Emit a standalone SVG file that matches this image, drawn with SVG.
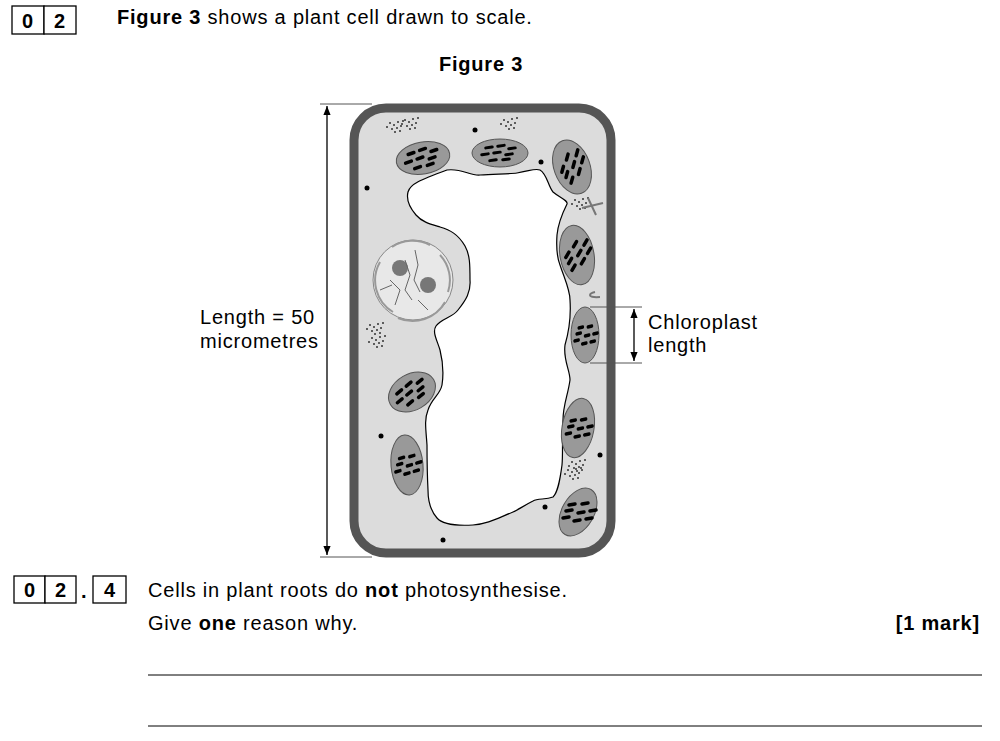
<svg xmlns="http://www.w3.org/2000/svg" width="1000" height="741" viewBox="0 0 1000 741">
<style>
text{font-family:"Liberation Sans",Arial,sans-serif;font-size:20px;letter-spacing:0.8px;fill:#000}
.b{font-weight:bold}
.box{fill:#fff;stroke:#000;stroke-width:1.3}
.chl{fill:#999;stroke:#555;stroke-width:1}
.st{stroke:#000;stroke-width:3.5;stroke-linecap:round}
.dim{stroke:#000;stroke-width:1.3;fill:none}
.tick{stroke:#555;stroke-width:1}
.dot{fill:#000}
</style>
<defs>
<marker id="ah" viewBox="0 0 10 10" refX="10" refY="5" markerWidth="7" markerHeight="7" orient="auto-start-reverse"><path d="M0,1L10,5L0,9z" fill="#000"/></marker>
<g id="str">
<line class="st" x1="-14" y1="-6" x2="-8" y2="-7"/><line class="st" x1="-2" y1="-8" x2="4" y2="-9"/><line class="st" x1="9" y1="-5" x2="15" y2="-6"/>
<line class="st" x1="-18" y1="2" x2="-12" y2="1"/><line class="st" x1="-6" y1="0" x2="0" y2="-1"/><line class="st" x1="6" y1="2" x2="12" y2="1"/>
<line class="st" x1="-10" y1="9" x2="-4" y2="8"/><line class="st" x1="3" y1="8" x2="9" y2="7"/>
</g>
<g id="spk" fill="#333"><circle cx="0" cy="0" r="1"/><circle cx="4" cy="2" r="1"/><circle cx="8" cy="-1" r="1"/><circle cx="2" cy="6" r="1"/><circle cx="7" cy="5" r="1"/><circle cx="11" cy="3" r="1"/><circle cx="-3" cy="4" r="1"/><circle cx="5" cy="9" r="1"/><circle cx="10" cy="8" r="1"/><circle cx="13" cy="-2" r="1"/></g>
</defs>
<rect width="1000" height="741" fill="#fff"/>
<g id="header">
<rect class="box" x="12" y="6" width="32" height="28"/><rect class="box" x="44" y="6" width="32" height="28"/>
<text class="b" x="28" y="28" text-anchor="middle">0</text><text class="b" x="60" y="28" text-anchor="middle">2</text>
<text x="117" y="24"><tspan class="b">Figure 3</tspan> shows a plant cell drawn to scale.</text>
<text class="b" x="481" y="71" text-anchor="middle">Figure 3</text>
</g>
<g id="cell">
<rect x="354" y="108" width="257" height="445" rx="32" fill="#dcdcdc" stroke="#555" stroke-width="9"/>
<path d="M408,192 C410,184 420,180 447,170 C462,168 470,176 480,175 C495,174 510,174 517,173 C530,171 535,168 540,170 C547,174 548,186 553,192 C560,198 568,200 567,204 C563,212 558,224 557,235 C556,250 558,260 560,265 C565,280 570,290 570,300 C571,315 570,328 565,345 C563,360 570,370 570,380 C568,395 563,405 563,420 C562,440 563,455 562,465 C560,480 558,492 553,497 C545,500 538,498 533,501 C523,506 518,510 513,512 C498,518 488,524 473,525 C455,526 442,524 437,518 C430,510 428,500 428,490 C427,470 427,455 427,445 C426,430 424,420 428,410 C432,398 440,395 442,385 C444,372 443,362 440,350 C437,340 432,332 436,326 C442,318 452,318 458,310 C466,300 471,292 470,280 C470,265 470,255 465,246 C458,234 450,230 440,227 C430,224 422,222 416,215 C410,208 406,200 408,192Z" fill="#fff" stroke="#000" stroke-width="1.2"/>
<g id="nucleus">
<ellipse cx="413" cy="280" rx="40" ry="40" fill="#e8e8e8" stroke="#888" stroke-width="1"/>
<path d="M380,262 A37,37 0 0,0 393,312 M398,318 A37,37 0 0,0 445,302 M448,292 A37,37 0 0,0 440,255 M430,245 A37,37 0 0,0 392,247" fill="none" stroke="#999" stroke-width="2"/>
<circle cx="400" cy="268" r="8" fill="#777"/><circle cx="428" cy="285" r="8" fill="#777"/>
<path d="M405,260 L410,275 L405,290 L412,300 M415,250 L418,265 L414,280 L420,292 M390,280 L400,290 L395,305 M418,300 L428,310 M380,290 L392,285" fill="none" stroke="#666" stroke-width="1"/>
</g>
<g id="chloroplasts">
<g transform="translate(423,158) rotate(-10)"><ellipse class="chl" rx="27" ry="16"/><use href="#str"/></g>
<g transform="translate(500,153)"><ellipse class="chl" rx="28" ry="14"/><use href="#str" transform="scale(1,0.85)"/></g>
<g transform="translate(572,167) rotate(70)"><ellipse class="chl" rx="28" ry="18"/><use href="#str" transform="rotate(45)"/></g>
<g transform="translate(577,255) rotate(80)"><ellipse class="chl" rx="30" ry="17"/><use href="#str" transform="rotate(50)"/></g>
<g transform="translate(585,335) rotate(90)"><ellipse class="chl" rx="28" ry="14"/><use href="#str" transform="rotate(90) scale(0.7,1)"/></g>
<g transform="translate(578,428) rotate(100)"><ellipse class="chl" rx="30" ry="16"/><use href="#str" transform="rotate(80) scale(0.8,1)"/></g>
<g transform="translate(578,512) rotate(120)"><ellipse class="chl" rx="26" ry="16"/><use href="#str" transform="rotate(60)"/></g>
<g transform="translate(412,392) rotate(-30)"><ellipse class="chl" rx="25" ry="18"/><use href="#str"/></g>
<g transform="translate(407,465) rotate(85)"><ellipse class="chl" rx="30" ry="16"/><use href="#str" transform="rotate(90) scale(0.8,1)"/></g>
</g>
<g id="granules">
<circle class="dot" cx="367" cy="188" r="2.5"/><circle class="dot" cx="475" cy="130" r="2.5"/><circle class="dot" cx="541" cy="162" r="2.5"/>
<circle class="dot" cx="381" cy="436" r="2.5"/><circle class="dot" cx="600" cy="455" r="2.5"/><circle class="dot" cx="545" cy="507" r="2.5"/><circle class="dot" cx="443" cy="540" r="2.5"/>
<use href="#spk" x="390" y="123"/><use href="#spk" x="405" y="120"/><use href="#spk" x="504" y="120"/>
<use href="#spk" x="575" y="200"/><use href="#spk" x="370" y="325"/><use href="#spk" x="372" y="338"/><use href="#spk" x="572" y="462"/><use href="#spk" x="568" y="470"/>
<path d="M588,198 L596,215 M582,208 L603,203 M595,292 C590,293 585,298 600,297" fill="none" stroke="#777" stroke-width="2"/>
</g>
</g>
<g id="connectors">
<line class="tick" x1="320" y1="104" x2="372" y2="104"/><line class="tick" x1="320" y1="557" x2="372" y2="557"/>
<line class="dim" x1="327" y1="106" x2="327" y2="555" marker-start="url(#ah)" marker-end="url(#ah)"/>
<line class="tick" x1="590" y1="307" x2="642" y2="307"/><line class="tick" x1="590" y1="363" x2="642" y2="363"/>
<line class="dim" x1="634" y1="309" x2="634" y2="361" marker-start="url(#ah)" marker-end="url(#ah)"/>
</g>
<g id="labels">
<text x="200" y="324">Length = 50</text><text x="200" y="348">micrometres</text>
<text x="648" y="329">Chloroplast</text><text x="648" y="352">length</text>
</g>
<g id="question">
<rect class="box" x="14" y="576" width="31" height="27"/><rect class="box" x="45" y="576" width="31" height="27"/>
<text class="b" x="30" y="597" text-anchor="middle">0</text><text class="b" x="61" y="597" text-anchor="middle">2</text>
<text class="b" x="81" y="598">.</text>
<rect class="box" x="93" y="576" width="33" height="27"/><text class="b" x="110" y="597" text-anchor="middle">4</text>
<text x="148" y="597">Cells in plant roots do <tspan class="b">not</tspan> photosynthesise.</text>
<text x="148" y="630">Give <tspan class="b">one</tspan> reason why.</text>
<text class="b" x="980" y="630" text-anchor="end">[1 mark]</text>
<line x1="148" y1="675" x2="982" y2="675" stroke="#000" stroke-width="1"/>
<line x1="148" y1="726" x2="982" y2="726" stroke="#000" stroke-width="1"/>
</g>
</svg>
